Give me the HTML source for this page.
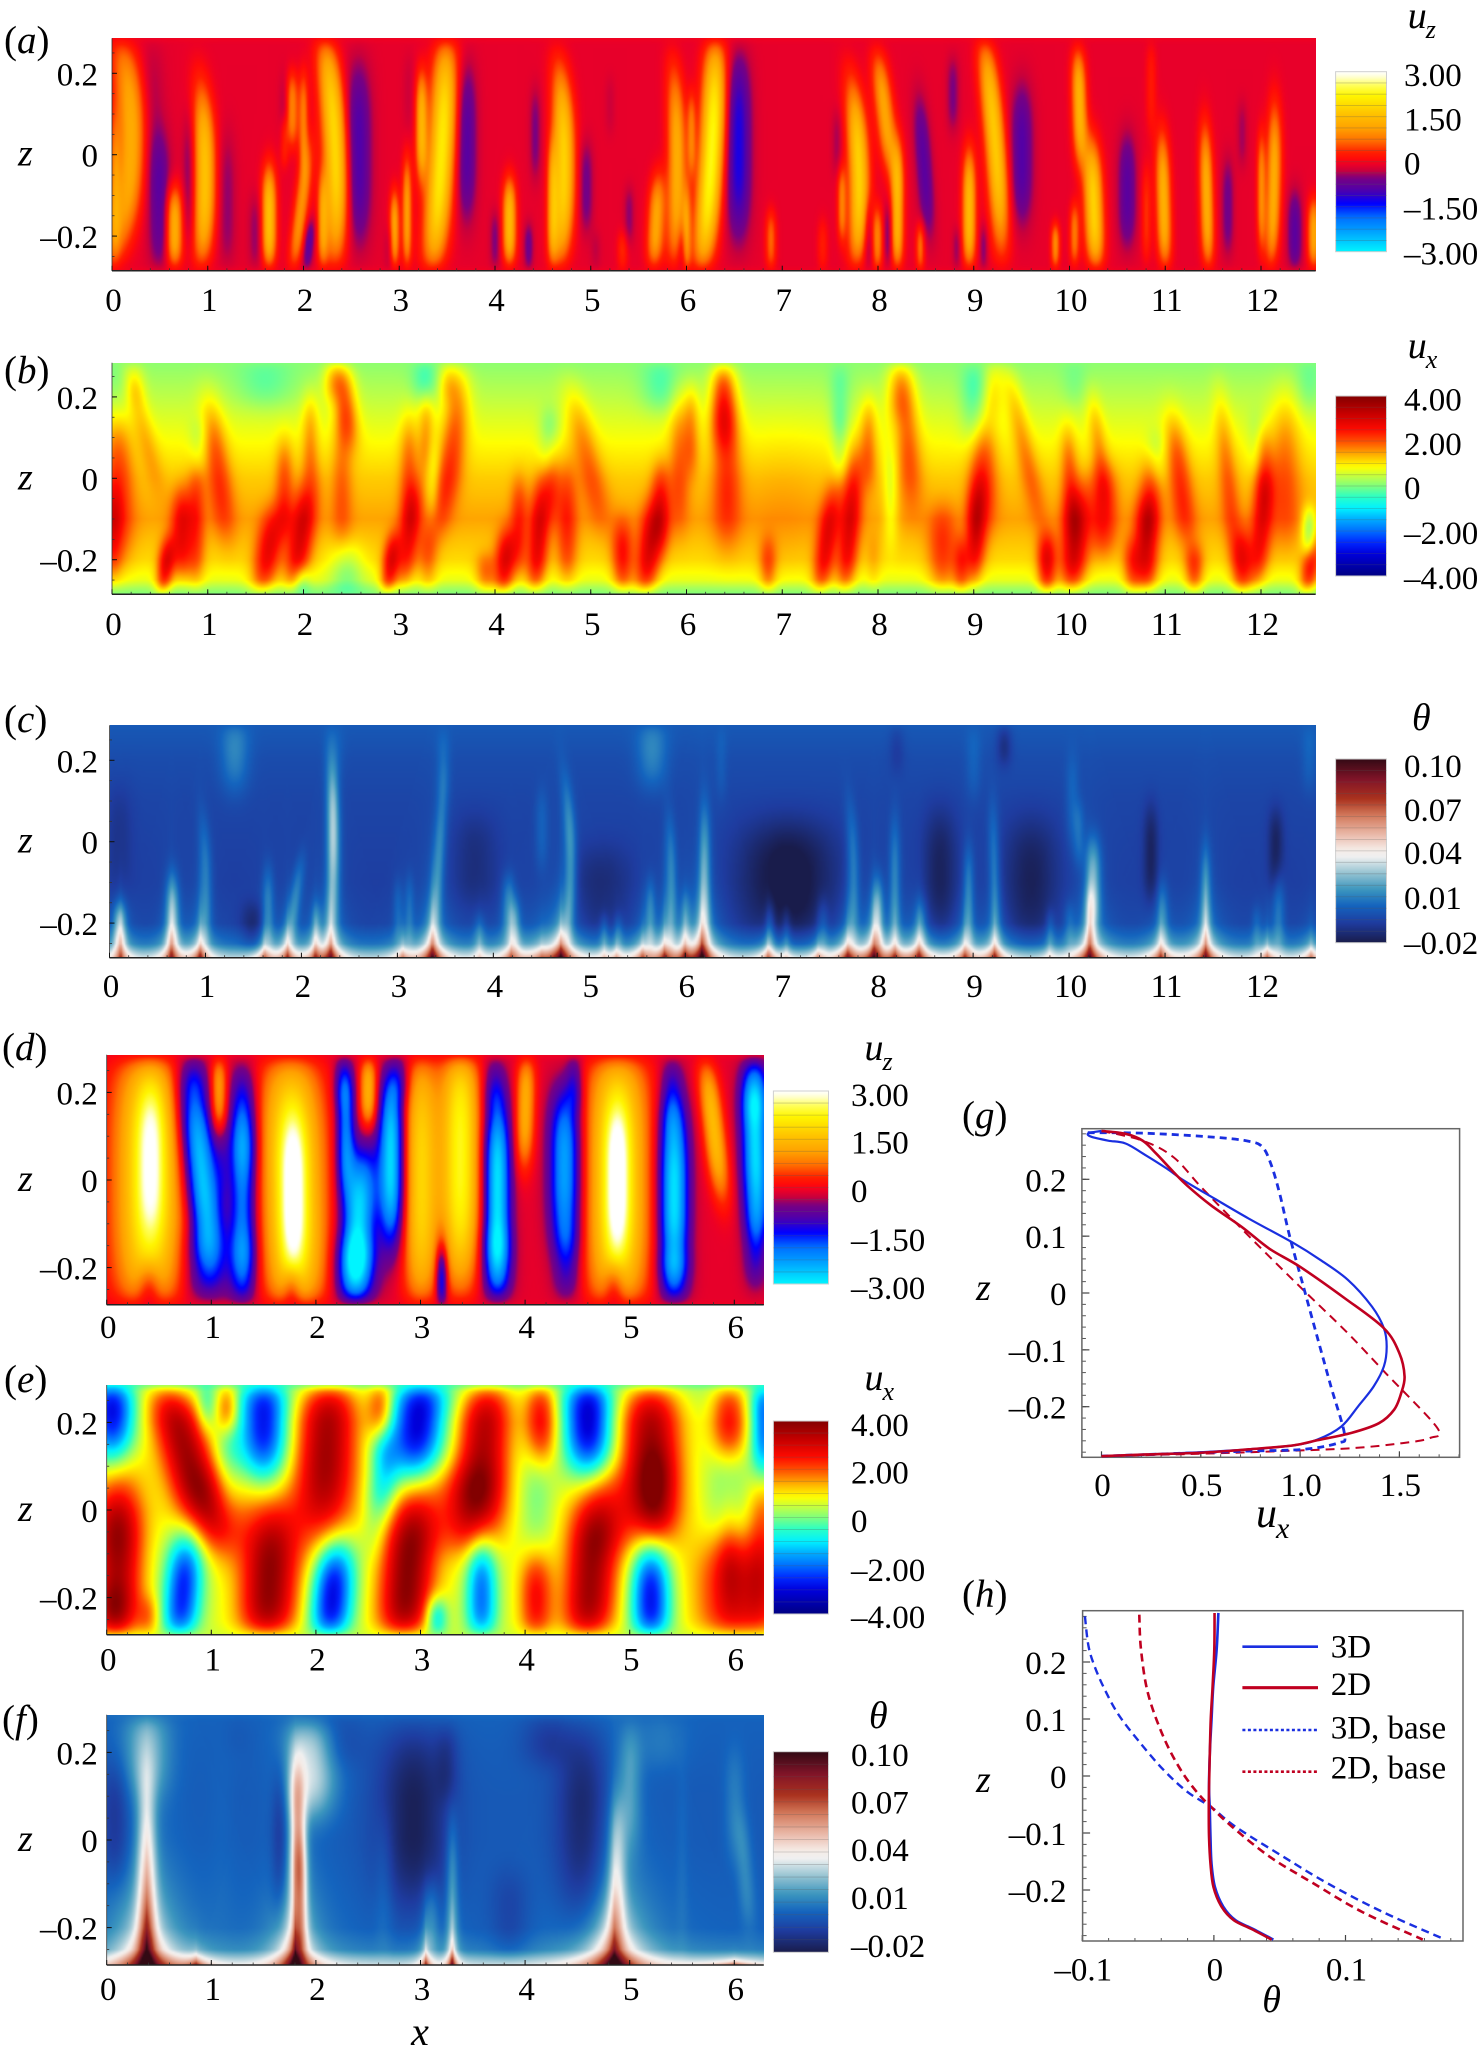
<!DOCTYPE html>
<html lang="en">
<head>
<meta charset="utf-8">
<title>Flow fields and mean profiles</title>
<style>
html,body{margin:0;padding:0;background:#fff;}
#figure{position:relative;width:1479px;height:2059px;overflow:hidden;background:#fff;font-family:"Liberation Serif",serif;}
canvas{position:absolute;display:block;}
svg{position:absolute;left:0;top:0;}
text{font-family:"Liberation Serif",serif;fill:#000;}
</style>
</head>
<body>
<div id="figure">
<canvas id="cv-a"></canvas>
<canvas id="cv-b"></canvas>
<canvas id="cv-c"></canvas>
<canvas id="cv-d"></canvas>
<canvas id="cv-e"></canvas>
<canvas id="cv-f"></canvas>
<svg id="ov" width="1479" height="2059" viewBox="0 0 1479 2059"></svg>
</div>
<script>
// ---------- tick labels ----------
const wideXTicks = [0,1,2,3,4,5,6,7,8,9,10,11,12];
const narrowXTicks = [0,1,2,3,4,5,6];
const fieldZTicks = [0.2,0,-0.2];
const uzBarLabels = ["3.00","1.50","0","–1.50","–3.00"];
const uxBarLabels = ["4.00","2.00","0","–2.00","–4.00"];
const thetaBarLabels = ["0.10","0.07","0.04","0.01","–0.02"];
const gXTicks = [0,0.5,1,1.5];
const gXLabels = ["0","0.5","1.0","1.5"];
const gZTicks = [0.2,0.1,0,-0.1,-0.2];
const hXTicks = [-0.1,0,0.1];
const hXLabels = ["–0.1","0","0.1"];

// ---------- colour scales: [value, [r,g,b]] ----------
const uzScale = [[-3,[0,245,255]],[-2.4,[0,170,255]],[-1.85,[0,110,255]],[-1.4,[0,0,255]],[-0.95,[80,0,170]],[-0.55,[120,0,130]],[-0.3,[200,0,60]],[-0.1,[235,0,40]],[0.1,[255,10,10]],[0.3,[255,30,0]],[0.7,[255,110,0]],[1.1,[255,160,0]],[1.6,[255,195,0]],[2.2,[255,245,0]],[2.55,[255,255,90]],[2.85,[255,255,220]],[3,[255,255,255]]];
const uxScale = [[-4,[0,0,130]],[-3,[0,0,220]],[-2.5,[0,40,255]],[-2,[0,110,255]],[-1.5,[0,170,255]],[-1,[0,240,255]],[-0.5,[40,255,200]],[-0.1,[110,255,140]],[0.4,[190,255,70]],[0.85,[255,255,0]],[1.3,[255,190,0]],[1.9,[255,90,0]],[2.5,[255,10,0]],[3.2,[200,0,0]],[4,[130,0,0]]];
const thetaScale = [[-0.02,[25,28,75]],[-0.0065,[30,60,160]],[0.005,[20,100,190]],[0.016,[60,150,190]],[0.027,[150,195,210]],[0.038,[240,240,240]],[0.043,[245,235,230]],[0.052,[235,190,175]],[0.066,[210,120,90]],[0.077,[170,50,30]],[0.09,[130,20,40]],[0.104,[50,10,20]]];

// ---------- mean wall-normal structure of each field ----------
const baseZLevels = [-0.286,-0.27,-0.25,-0.2,-0.1,0,0.1,0.2,0.27,0.286];
const baseA = [-0.05,-0.12,-0.12,-0.12,-0.12,-0.12,-0.12,-0.12,-0.12,-0.05];
const baseB = [0,0.25,0.7,1.1,1.45,1.2,0.8,0.4,0.15,0.1];
const baseC = [0.03,0.02,0.006,-0.005,-0.006,-0.005,-0.004,-0.002,0.001,0.002];
const baseD = [-0.05,-0.12,-0.12,-0.12,-0.12,-0.12,-0.12,-0.12,-0.12,-0.05];
const baseE = [0.5,0.55,0.6,0.6,0.6,0.7,0.6,0.5,0.2,-0.2];
const baseF = [0.034,0.024,0.01,0.004,0.003,0.002,0.002,0.003,0.004,0.006];

// ---------- plume features read off each field ----------
// each row: x, z, half-height in z, half-width in x, amplitude, tilt dx/dz, curvature
const plumesA = [
[0.2,0.02,0.27,0.13,1.4,0.1,-2.0],[0.03,-0.08,0.15,0.03,0.7],[0.5,-0.13,0.16,0.09,-0.9],[0.42,0.08,0.18,0.1,-0.4],[0.65,-0.185,0.085,0.06,1.5],
[0.8,-0.06,0.14,0.04,-0.6],[0.97,-0.055,0.2,0.085,1.7,0,-0.8],[1.2,-0.12,0.15,0.07,-0.5],[1.5,-0.2,0.08,0.05,-0.5],[1.64,-0.16,0.11,0.05,1.7],
[1.8,0.1,0.08,0.03,-0.4],[1.88,0.11,0.07,0.04,1.0],[2.0,0.08,0.1,0.025,0.9],[1.97,-0.14,0.14,0.05,1.1,0.53],[1.8,0.03,0.04,0.02,0.5],
[2.05,-0.23,0.05,0.03,-1.1,0.4],[2.2,-0.17,0.1,0.03,1.0],[2.33,0.02,0.26,0.1,2.0,-0.21,-0.77],[2.57,0,0.2,0.11,-1.2],[2.9,-0.25,0.05,0.03,-0.4],
[3.1,0.15,0.08,0.04,-0.2],[2.95,-0.19,0.08,0.025,1.3],[3.08,-0.15,0.12,0.025,1.2],[3.23,0.07,0.11,0.035,1.4],[3.44,0,0.27,0.11,2.2,0.25,-0.3],
[3.7,0.03,0.17,0.08,-1.1],[4.0,-0.22,0.06,0.03,-0.6],[4.15,-0.17,0.09,0.045,1.6],[4.35,-0.24,0.05,0.025,-0.8],[4.42,0.05,0.09,0.035,-0.6],
[4.6,-0.12,0.13,0.03,1.1],[4.72,-0.03,0.22,0.085,1.9,0,-0.8],[4.95,-0.08,0.09,0.05,-0.7],[5.05,-0.25,0.04,0.03,-0.3],[5.4,-0.15,0.05,0.03,-0.5],
[5.33,-0.25,0.04,0.03,0.5],[5.2,0.12,0.05,0.03,-0.2],[5.68,-0.17,0.1,0.06,1.3,0.2],[5.9,-0.03,0.22,0.07,1.4,0,-0.6],[6.05,0.05,0.08,0.02,0.8],
[6.0,-0.2,0.1,0.02,0.9],[5.95,-0.24,0.04,0.02,-0.4],[6.26,0,0.27,0.1,2.4,0.25,-0.4],[6.54,0.02,0.2,0.1,-1.6],
[6.88,-0.22,0.06,0.03,0.8],[7.42,-0.24,0.06,0.03,0.4],[7.57,0.03,0.06,0.03,-0.4],[7.62,-0.12,0.07,0.02,0.9],[7.8,-0.05,0.2,0.08,1.9,-0.1,-1.0],
[7.9,-0.2,0.07,0.03,-0.8],[8.07,0.1,0.13,0.07,1.3,-0.5],[8.2,-0.14,0.14,0.04,1.5],[7.99,-0.22,0.07,0.035,1.0],[8.1,-0.2,0.06,0.02,-0.7],
[8.44,-0.24,0.05,0.02,0.9],[8.48,-0.03,0.15,0.06,-1.0,-0.3],[8.78,0.15,0.07,0.04,-0.6],[8.95,-0.14,0.13,0.045,1.6],[9.22,0.03,0.24,0.08,1.8,-0.35,-0.4],
[9.5,0,0.15,0.09,-1.1],[9.1,-0.24,0.05,0.02,-0.6],[8.82,-0.24,0.04,0.02,-0.5],[10.1,0.12,0.12,0.05,1.5,-0.1],[10.25,-0.13,0.14,0.07,1.9,-0.15],
[9.85,-0.23,0.04,0.02,1.1],[10.05,-0.2,0.06,0.025,0.9],[10.6,-0.09,0.12,0.07,-1.0],[10.98,-0.12,0.15,0.05,1.45,-0.1],[10.8,-0.15,0.1,0.025,0.5],
[10.85,0.17,0.1,0.03,0.35],[11.43,-0.11,0.16,0.045,1.4,-0.1],[11.65,-0.13,0.1,0.04,-0.7],[11.8,0.05,0.06,0.03,-0.4],[12,-0.09,0.12,0.02,1.0],
[12.13,-0.08,0.18,0.05,1.4,0.1,-0.3],[12.35,-0.2,0.09,0.05,-1.0],[12.55,-0.2,0.07,0.04,1.3]
];
const plumesB = [
[0.3,0.15,0.13,0.05,0.7,-1.0],[0.06,-0.02,0.15,0.1,1.3],[0,-0.14,0.08,0.04,1.0],[0.73,-0.14,0.07,0.05,1.7],[0.55,-0.24,0.05,0.03,2.3,0.5],
[0.88,-0.12,0.13,0.035,1.1],[1.1,0.03,0.13,0.07,1.3,-0.5],[0.9,0.08,0.03,0.04,-0.5],[1.62,-0.2,0.08,0.08,2.0,0.7],[1.8,-0.02,0.08,0.035,1.0],
[1.97,-0.15,0.1,0.07,2.1,0.6],[2.07,0.1,0.07,0.03,0.9],[2.43,0.2,0.08,0.06,1.7,-0.4],[2.4,0,0.12,0.05,0.8],[2.9,-0.23,0.05,0.03,2.2,0.5],
[3.1,-0.15,0.09,0.05,1.6,0.5],[3.3,-0.22,0.05,0.04,0.8],[3.1,0.02,0.1,0.04,1.0],[3.28,0.11,0.06,0.025,0.9],[3.56,0.08,0.18,0.08,1.5,0.55,-1.5],
[3.35,-0.01,0.06,0.02,-0.6],[4.1,-0.23,0.06,0.05,2.3,0.3],[3.9,-0.26,0.03,0.05,1.3],[4.25,-0.12,0.08,0.03,1.1],[4.45,-0.16,0.12,0.05,2.0,0.3],
[4.6,0,0.06,0.03,0.8],[4.95,0.06,0.13,0.08,1.0,-0.9],[4.75,-0.12,0.12,0.05,1.2],[4.57,0.09,0.04,0.05,-0.7],[5.6,-0.2,0.1,0.07,2.2,0.5],
[5.33,-0.21,0.06,0.05,1.7],[5.73,-0.07,0.07,0.04,1.2],[5.92,0.05,0.13,0.05,1.0],[6.05,0.12,0.07,0.03,1.0],[6.38,0.2,0.08,0.07,1.9],
[6.42,0.03,0.15,0.09,1.3],[7,-0.1,0.2,0.35,0.2],[3.27,0.26,0.03,0.08,-0.7],[1.6,0.25,0.04,0.25,-0.5],[5.73,0.24,0.04,0.15,-0.6],
[0.06,0.22,0.05,0.1,-0.3],[1.98,-0.28,0.02,0.03,-1.0],[2.45,-0.25,0.05,0.12,-0.8],[7.45,-0.18,0.11,0.05,1.9,0.55],[7.7,-0.13,0.15,0.05,1.9,0.35],
[6.85,-0.24,0.05,0.03,1.2],[7.9,0.09,0.07,0.03,1.0],[8.3,0.13,0.15,0.07,1.3,-0.25],[8.13,-0.05,0.08,0.02,-0.6],[7.95,-0.22,0.04,0.02,0.4],
[9.1,0.02,0.1,0.08,1.3],[9.05,-0.1,0.08,0.04,1.0],[8.67,-0.2,0.08,0.09,1.3],[8.87,-0.24,0.05,0.03,1.5],[9,-0.16,0.08,0.03,1.2],
[9.5,0.1,0.17,0.05,0.9,-0.9],[9,0.19,0.07,0.08,-0.7],[9.76,-0.23,0.05,0.04,2.2],[10.05,-0.17,0.1,0.08,2.4,0.3],[10,0,0.09,0.03,1.0,-0.2],
[10.35,-0.08,0.07,0.08,1.4],[10.3,0.08,0.09,0.03,0.8,-0.5],[10.8,-0.18,0.09,0.06,2.2],[10.65,-0.24,0.05,0.04,1.4],[10.85,-0.04,0.06,0.05,1.0],
[11.15,0,0.12,0.06,1.3,-0.5],[11.3,-0.25,0.04,0.04,1.6],[11.65,0,0.18,0.04,0.9,-0.4],[11.8,-0.23,0.06,0.05,1.8],[12,-0.13,0.11,0.05,1.7,0.4],
[12.02,0.03,0.06,0.03,0.9],[12.25,0.03,0.15,0.1,1.0],[12.5,-0.24,0.05,0.04,2.1,0.6],[12.5,-0.135,0.025,0.02,-1.2],[10.9,0.05,0.03,0.05,-0.5],
[11.95,0.09,0.04,0.04,-0.4],[10.05,0.25,0.04,0.08,-0.3],[12.5,0.25,0.05,0.08,-0.4],[7.6,0.2,0.05,0.05,-0.5],[7.6,0.08,0.05,0.03,-0.5],
[8.2,0.23,0.05,0.07,0.8],[9.2,0.24,0.05,0.05,0.8],[0.25,0.25,0.03,0.04,0.5],[2.3,0.26,0.03,0.05,1.0],[3.5,0.26,0.03,0.05,0.8]
];
const plumesC = [
[0.1,-0.22,0.05,0.04,0.03],[0.65,-0.19,0.09,0.04,0.03],[1,-0.12,0.16,0.035,0.018,0,-1.0],[1.65,-0.17,0.09,0.03,0.018],[1.92,-0.16,0.1,0.035,0.02,0.6],
[2.15,-0.22,0.05,0.02,0.015],[2.33,-0.02,0.21,0.04,0.03,0,-0.5],[2.32,0.05,0.1,0.03,0.012],[1.3,0.24,0.1,0.12,0.018],[2.35,0.24,0.06,0.06,0.006],
[3,-0.17,0.06,0.02,0.01],[3.12,-0.17,0.07,0.02,0.012],[3.42,-0.07,0.2,0.035,0.022,0.25],[3.47,0.2,0.08,0.04,0.008],[3.85,-0.24,0.04,0.03,0.012],
[4.15,-0.16,0.06,0.04,0.018],[4.22,-0.22,0.06,0.03,0.02],[4.8,-0.06,0.19,0.035,0.026,0,-1.2],[4.5,0.03,0.08,0.04,0.01],[5.15,-0.23,0.03,0.02,0.012],
[5.3,-0.23,0.03,0.02,0.012],[5.63,-0.19,0.08,0.025,0.018],[5.85,-0.12,0.16,0.03,0.02,0,-0.6],[6,-0.2,0.06,0.02,0.012],[6.2,-0.1,0.17,0.03,0.026],
[5.65,0.24,0.09,0.13,0.018],[6.37,0.2,0.08,0.03,0.006],[0.1,0,0.12,0.1,-0.006],[1.5,-0.22,0.05,0.1,-0.012],[5.1,-0.13,0.1,0.3,-0.008],
[3.8,-0.05,0.1,0.2,-0.007],[7.06,-0.1,0.13,0.45,-0.018],[9.6,-0.1,0.14,0.25,-0.012],[8.65,-0.08,0.14,0.15,-0.012],[10.85,-0.03,0.1,0.05,-0.012],
[12.15,-0.02,0.08,0.05,-0.012],[9.32,0.26,0.05,0.05,-0.012],[8.2,0.25,0.06,0.05,-0.006],[7.75,-0.1,0.17,0.035,0.02,0,-1.0],[8,-0.2,0.09,0.03,0.03],
[8.18,-0.12,0.16,0.03,0.02],[8.45,-0.22,0.06,0.03,0.015],[6.88,-0.23,0.06,0.02,0.014],[7.05,-0.23,0.05,0.02,0.01],[7.43,-0.22,0.06,0.03,0.013],
[8.95,-0.15,0.12,0.025,0.02],[9.22,-0.1,0.17,0.03,0.018,-0.1],[9,0.2,0.08,0.05,0.008],[9.8,-0.23,0.04,0.02,0.012],[10.03,0.1,0.1,0.04,0.01],
[10.25,-0.1,0.09,0.05,0.03],[10.22,-0.2,0.07,0.025,0.02],[10.1,0.02,0.06,0.03,0.012],[10,-0.21,0.04,0.025,0.01],[10.97,-0.2,0.08,0.03,0.016],
[11.42,-0.15,0.12,0.025,0.02],[11.95,-0.22,0.04,0.02,0.01],[12.18,-0.18,0.09,0.035,0.016],[12.5,0.22,0.08,0.05,0.008]
];
// roots: x, peak, half-width in x, height in z
const rootsC = [
[0.11,0.06,0.15,0.12],[0.64,0.07,0.15,0.12],[0.94,0.07,0.15,0.12],[1.61,0.05,0.15,0.1],[1.85,0.06,0.15,0.1],[2.14,0.05,0.12,0.1],[2.3,0.08,0.17,0.14],
[3.05,0.04,0.15,0.08],[3.36,0.09,0.2,0.14],[3.85,0.02,0.12,0.08],[4.18,0.05,0.2,0.1],[4.5,0.03,0.25,0.08],[4.7,0.09,0.22,0.14],[5.15,0.02,0.12,0.06],
[5.28,0.03,0.12,0.06],[5.55,0.05,0.17,0.1],[5.78,0.06,0.17,0.12],[5.99,0.05,0.12,0.1],[6.17,0.1,0.2,0.16],[6.86,0.05,0.15,0.08],[7.05,0.02,0.12,0.06],
[7.38,0.04,0.12,0.06],[7.69,0.07,0.2,0.1],[7.96,0.08,0.17,0.12],[8.18,0.05,0.15,0.08],[8.43,0.07,0.2,0.1],[8.91,0.06,0.17,0.1],[9.22,0.07,0.17,0.1],
[9.79,0.02,0.12,0.06],[10.21,0.09,0.22,0.14],[10.95,0.06,0.2,0.1],[11.42,0.08,0.2,0.14],[12.06,0.05,0.17,0.08],[12.52,0.05,0.15,0.08]
];
const plumesD = [
[0.4,0,0.3,0.3,2.3],[0.42,0.05,0.15,0.1,1.0],[0.4,-0.27,0.05,0.08,-1.0],[0.9,0.02,0.2,0.13,-2.7,-0.48],[0.9,-0.2,0.06,0.15,-0.8],[0.85,0.26,0.04,0.1,-0.5],
[1.07,0.2,0.07,0.05,1.3],[1.3,-0.03,0.17,0.1,-1.9],[1.3,0.15,0.1,0.1,-1.0],[1.3,-0.22,0.07,0.1,-1.0],[1.1,0.05,0.06,0.05,-0.4],
[1.78,-0.02,0.3,0.27,2.4,-0.1],[1.78,-0.03,0.15,0.09,1.2],[1.77,-0.27,0.04,0.06,-1.0],[2.4,-0.1,0.14,0.13,-2.7,0.3],[2.28,0.12,0.12,0.06,-1.9],[2.4,-0.22,0.06,0.15,-1.2],
[2.72,0.05,0.17,0.09,-2.7],[2.5,0.21,0.06,0.055,1.5],[2.8,0.25,0.04,0.07,-0.6],[2.25,0.24,0.04,0.06,-0.5],[3.38,0.05,0.27,0.16,2.4],
[3,0,0.28,0.14,1.9],[3.2,-0.24,0.05,0.02,-1.4],[3.2,-0.2,0.07,0.04,-0.6],[3.73,-0.02,0.18,0.095,-2.8],[3.73,-0.2,0.06,0.11,-1.0],
[3.7,0.23,0.04,0.08,-0.6],[4,0.17,0.11,0.06,1.4,0.1],[4.38,0.03,0.15,0.12,-2.3],[4.47,0.24,0.05,0.05,-0.8],[4.4,-0.19,0.07,0.1,-0.9],
[4.88,0,0.3,0.26,2.4],[4.88,0,0.14,0.08,1.2],[4.85,-0.26,0.04,0.07,-1.0],[5.42,-0.03,0.17,0.11,-2.8],[5.42,-0.23,0.04,0.11,-1.0],[5.4,0.2,0.07,0.08,-0.8],
[5.8,0.12,0.13,0.07,1.6,-0.5],[6.2,0.07,0.15,0.1,-2.7,-0.1],[6.2,0.22,0.05,0.1,-0.9],[6.2,-0.15,0.07,0.08,-0.9]
];
const plumesE = [
[0.05,0.26,0.11,0.15,-3.5],[0.76,0.13,0.15,0.2,3.6,-1.2],[0.1,-0.16,0.14,0.18,3.3],[0.05,-0.26,0.04,0.1,1],[0.1,0.03,0.08,0.2,1.2],
[0.72,-0.2,0.1,0.12,-3.2,0.35],[0.4,-0.27,0.02,0.05,1.2],[1.55,-0.17,0.13,0.22,3.8,0.2],[1.1,0,0.05,0.25,0.9],[1.5,0.22,0.1,0.17,-3.3],
[1.15,0.26,0.03,0.05,2],[0.95,0.26,0.03,0.04,-1],[2.1,0.16,0.18,0.24,3.6,0.2],[2.15,-0.21,0.09,0.14,-3.6,0.3],[2.62,0.25,0.04,0.07,2.5],
[2.98,0.22,0.1,0.2,-3.6,0.4],[2.65,0.1,0.08,0.08,-1.4],[2.87,-0.16,0.14,0.2,3.9,0.3],[3.6,0.15,0.17,0.2,3.4,0.3],[3.5,0,0.05,0.2,0.9],
[3.58,-0.2,0.1,0.09,-2.6],[3.15,-0.27,0.02,0.05,-2.2],[4.15,0.22,0.07,0.1,2.6],[4.6,0.23,0.1,0.17,-3.7],[4.1,-0.22,0.07,0.1,2.3],
[4.62,-0.17,0.14,0.19,3.6,0.25],[5.2,0.13,0.17,0.23,3.6],[5.25,0.03,0.06,0.12,1],[5.2,-0.21,0.1,0.13,-3.5],[6,-0.2,0.09,0.3,2.7],
[6.27,-0.1,0.14,0.1,1.5],[5.95,0.22,0.06,0.12,2.4],[6.28,0.2,0.08,0.07,-2.5],[5.95,-0.07,0.1,0.06,0.7],[3.2,0,0.05,0.35,0.7],[4.75,0,0.05,0.2,1],
[1.15,0.1,0.06,0.1,-0.8],[2.55,-0.02,0.04,0.06,-0.5],[4.1,0.05,0.08,0.12,-0.7],[5.95,0.05,0.06,0.15,-0.8]
];
const plumesF = [
[0.38,-0.1,0.22,0.05,0.03],[0.38,0.22,0.1,0.18,0.02],[1.82,0.03,0.13,0.035,0.032],[1.95,0.17,0.09,0.2,0.03],[1.85,-0.13,0.14,0.025,0.03],
[4.88,-0.08,0.15,0.04,0.02],[5,0.12,0.12,0.07,0.014],[3.3,-0.12,0.14,0.02,0.015],[3.1,-0.18,0.06,0.04,0.012],[6,0.08,0.1,0.06,0.008],
[6.1,-0.07,0.1,0.04,0.01,-0.3],[5.3,0.24,0.05,0.2,0.006],[2.93,0.05,0.19,0.3,-0.02],[3.25,0.18,0.06,0.07,-0.008],[4.55,0.03,0.2,0.22,-0.018],
[0.08,0.04,0.11,0.1,-0.012],[1.65,0,0.14,0.04,-0.012],[3.85,-0.18,0.08,0.15,-0.008],[1.25,0.26,0.03,0.1,-0.002],[2.2,0.25,0.05,0.2,-0.008],[4.2,0.25,0.05,0.2,-0.01],
[5.5,-0.05,0.2,0.02,0.003],[2.65,-0.1,0.12,0.05,0.006],[1.1,0,0.2,0.1,0.002]
];
const rootsF = [
[0.38,0.11,0.3,0.2],[0.85,0.05,0.14,0.03],[1.8,0.11,0.2,0.2],[3.05,0.06,0.07,0.07],[3.3,0.08,0.06,0.08],[4.85,0.11,0.3,0.2],[6,0.05,0.35,0.015]
];

// ---------- profile series, panel g ----------
const g3DU = [0,-0.066,-0.052,0.034,0.121,0.224,0.328,0.414,0.569,0.741,0.966,1.103,1.241,1.362,1.422,1.436,1.422,1.371,1.293,1.207,1.086,0.966,0.741,0.5,0.224,0];
const g3DZ = [0.285,0.281,0.275,0.268,0.263,0.242,0.219,0.198,0.166,0.131,0.088,0.058,0.023,-0.024,-0.062,-0.094,-0.129,-0.164,-0.199,-0.235,-0.258,-0.268,-0.275,-0.28,-0.284,-0.287];
const g2DU = [0,0.121,0.207,0.276,0.362,0.431,0.552,0.707,0.845,1.0,1.224,1.422,1.5,1.526,1.509,1.474,1.397,1.259,1.086,0.966,0.741,0.5,0.224,0];
const g2DZ = [0.285,0.28,0.268,0.245,0.213,0.189,0.154,0.116,0.078,0.046,-0.009,-0.062,-0.106,-0.147,-0.176,-0.205,-0.229,-0.246,-0.259,-0.268,-0.275,-0.281,-0.284,-0.287];
const g3DBaseU = [-0.069,0.224,0.569,0.741,0.81,0.853,0.897,0.948,1.017,1.086,1.155,1.224,1.19,1.017,0.741,0.397,0];
const g3DBaseZ = [0.282,0.281,0.274,0.267,0.257,0.227,0.175,0.099,0.011,-0.077,-0.164,-0.249,-0.264,-0.275,-0.278,-0.282,-0.287];
const g2DBaseU = [0,0.207,0.362,0.5,0.672,0.828,1.017,1.241,1.431,1.69,1.655,1.517,1.259,0.914,0.569,0];
const g2DBaseZ = [0.285,0.268,0.239,0.187,0.125,0.07,0.005,-0.071,-0.141,-0.237,-0.255,-0.264,-0.273,-0.278,-0.282,-0.287];

// ---------- profile series, panel h ----------
const h3DTheta = [0.0034,0.0021,-0.0005,-0.0018,-0.0031,-0.0037,-0.0031,-0.0026,-0.0018,0.0008,0.0073,0.0164,0.0295,0.0452];
const h2DTheta = [0.0005,0.0003,-0.001,-0.0024,-0.0031,-0.0037,-0.0039,-0.0037,-0.0026,-0.0003,0.006,0.0151,0.0282,0.0439];
const hSolidZ = [0.286,0.222,0.157,0.099,0.04,-0.019,-0.06,-0.107,-0.154,-0.195,-0.23,-0.253,-0.268,-0.287];
const h3DBaseTheta = [-0.098,-0.0953,-0.0906,-0.0828,-0.0723,-0.0567,-0.0384,-0.0201,-0.0018,0.0164,0.053,0.0869,0.1287,0.1757];
const h3DBaseZ = [0.28,0.228,0.192,0.151,0.107,0.06,0.011,-0.028,-0.055,-0.089,-0.142,-0.189,-0.239,-0.287];
const h2DBaseTheta = [-0.0567,-0.0554,-0.0501,-0.0384,-0.0253,-0.0123,-0.0018,0.0138,0.0426,0.0739,0.1131,0.1587];
const h2DBaseZ = [0.283,0.222,0.145,0.069,0.011,-0.03,-0.055,-0.089,-0.142,-0.186,-0.239,-0.287];

// ---------- drawing ----------
const SVGNS = "http://www.w3.org/2000/svg";
const ov = document.getElementById("ov");
function mk(tag, attrs, parent){
  const el = document.createElementNS(SVGNS, tag);
  for (const k in attrs) el.setAttribute(k, attrs[k]);
  (parent || ov).appendChild(el);
  return el;
}
function group(name){
  const g = mk("g", {});
  
  
  return g;
}
function label(str, x, y, anchor, name, parent, size){
  const el = mk("text", {x:x, y:y, "text-anchor":anchor, "font-size":size||33}, parent);
  el.textContent = str;
  
  
  return el;
}
function italicLabel(str, x, y, anchor, name, parent, size){
  const el = label(str, x, y, anchor, name, parent, size);
  el.setAttribute("font-style", "italic");
  return el;
}
function panelLetter(letter, x, y){
  const el = mk("text", {x:x, y:y, "font-size":39});
  
  
  const a = mk("tspan", {}, el); a.textContent = "(";
  const b = mk("tspan", {"font-style":"italic"}, el); b.textContent = letter;
  const c = mk("tspan", {}, el); c.textContent = ")";
}
function symbolTitle(main, sub, x, y, name){
  const g = group(name);
  italicLabel(main, x, y, "start", name + "-symbol", g, 38);
  if (sub) italicLabel(sub, x + 18, y + 10, "start", name + "-subscript", g, 26);
}
function lerp(a, b, t){ return a + (b - a) * t; }
function colorAt(scale, v){
  if (v <= scale[0][0]) return scale[0][1];
  for (let i = 1; i < scale.length; i++){
    if (v <= scale[i][0]){
      const t = (v - scale[i-1][0]) / (scale[i][0] - scale[i-1][0]);
      const p = scale[i-1][1], q = scale[i][1];
      return [lerp(p[0],q[0],t), lerp(p[1],q[1],t), lerp(p[2],q[2],t)];
    }
  }
  return scale[scale.length-1][1];
}
function baseAt(values, z){
  const L = baseZLevels;
  if (z <= L[0]) return values[0];
  for (let i = 1; i < L.length; i++){
    if (z <= L[i]) return lerp(values[i-1], values[i], (z - L[i-1]) / (L[i] - L[i-1]));
  }
  return values[values.length-1];
}
function fieldAt(x, z, base, plumes, roots, tune){
  let v = baseAt(base, z);
  const env = 1 - Math.pow(Math.abs(z) / 0.29, 12);
  for (let i = 0; i < plumes.length; i++){
    const r = plumes[i];
    const dz = z - r[1];
    const qz = Math.abs(dz / (r[2] + tune.dh));
    if (qz > 2) continue;
    const dx = x - r[0] - (r[5] || 0) * dz - (r[6] || 0) * dz * dz;
    const qx = dx / (r[3] + tune.dw);
    if (qx > 3.2 || qx < -3.2) continue;
    const amp = r[4] * (r[4] < 0 ? tune.neg : tune.pos);
    v += env * amp * Math.exp(-(qx * qx) - qz * qz * qz);
  }
  if (roots){
    const d = Math.max(0, z + 0.286);
    for (let i = 0; i < roots.length; i++){
      const r = roots[i];
      const s = Math.pow(Math.abs(x - r[0]) / (r[2] * tune.ra), 0.9) + Math.pow(d / (r[3] * tune.rb), 0.9);
      if (s < 6) v += r[1] * tune.rp * Math.exp(-s);
    }
  }
  return v;
}
function drawField(id, p, base, plumes, roots, scale, tune){
  const cv = document.getElementById(id);
  const wpx = p.right - p.left, hpx = p.bottom - p.top;
  const cw = Math.round(wpx / 1.5), ch = Math.round(hpx / 1.5);
  cv.width = cw; cv.height = ch;
  cv.style.left = p.left + "px"; cv.style.top = p.top + "px";
  cv.style.width = wpx + "px"; cv.style.height = hpx + "px";
  const ctx = cv.getContext("2d");
  const img = ctx.createImageData(cw, ch);
  let k = 0;
  for (let j = 0; j < ch; j++){
    const z = (p.zero - (p.top + (j + 0.5) * hpx / ch)) / p.zUnit;
    for (let i = 0; i < cw; i++){
      const x = ((i + 0.5) * wpx / cw) / p.xUnit;
      const c = colorAt(scale, fieldAt(x, z, base, plumes, roots, tune));
      img.data[k++] = c[0]; img.data[k++] = c[1]; img.data[k++] = c[2]; img.data[k++] = 255;
    }
  }
  ctx.putImageData(img, 0, 0);
}
function fieldAxes(p, ticks, name){
  const g = group(name + "-axes");
  const xs = x => p.left + x * p.xUnit;
  const zs = z => p.zero - z * p.zUnit;
  mk("line", {x1:p.left, x2:p.right, y1:p.bottom, y2:p.bottom, stroke:"#222", "stroke-width":1.5}, g);
  mk("line", {x1:p.left, x2:p.left, y1:p.top, y2:p.bottom, stroke:"#333", "stroke-width":0.8}, g);
  const maxX = (p.right - p.left) / p.xUnit;
  for (let m = 0.2; m < maxX; m += 0.2){
    mk("line", {x1:xs(m), x2:xs(m), y1:p.bottom, y2:p.bottom - 2.5, stroke:"#333", "stroke-width":0.8}, g);
  }
  ticks.forEach(t => {
    mk("line", {x1:xs(t), x2:xs(t), y1:p.bottom, y2:p.bottom - 5, stroke:"#111", "stroke-width":1}, g);
    label(String(t), xs(t) + 1.5, p.xLabelY, "middle", name + "-x-tick-" + t, g);
  });
  for (let m = -0.25; m < 0.28; m += 0.05){
    mk("line", {x1:p.left, x2:p.left + 2.5, y1:zs(m), y2:zs(m), stroke:"#333", "stroke-width":0.8}, g);
  }
  fieldZTicks.forEach(t => {
    mk("line", {x1:p.left, x2:p.left + 5, y1:zs(t), y2:zs(t), stroke:"#111", "stroke-width":1}, g);
    const s = t < 0 ? "–" + Math.abs(t) : String(t);
    label(s, p.zLabelRight, zs(t) + 12, "end", name + "-z-tick-" + t, g);
  });
  italicLabel("z", p.zTitleX, p.zero + 11, "start", name + "-z-title", g, 38);
}
let gradId = 0;
function colorBar(b, scale, labels, name, vmin, vmax){
  const g = group(name);
  const defs = mk("defs", {}, g);
  const id = "bar" + (gradId++);
  const lg = mk("linearGradient", {id:id, x1:0, y1:0, x2:0, y2:1}, defs);
  for (let i = 0; i <= 60; i++){
    const c = colorAt(scale, lerp(vmax, vmin, i / 60));
    mk("stop", {offset:(i / 60), "stop-color":"rgb(" + c.map(Math.round).join(",") + ")"}, lg);
  }
  mk("rect", {x:b.left, y:b.top, width:b.right - b.left, height:b.bottom - b.top, fill:"url(#" + id + ")", stroke:"#cfcfcf", "stroke-width":1}, g);
  for (let i = 1; i < 16; i++){
    const y = b.top + i * (b.bottom - b.top) / 16;
    mk("line", {x1:b.left, x2:b.right, y1:y, y2:y, stroke:"#555", "stroke-opacity":0.3, "stroke-width":0.8}, g);
  }
  labels.forEach((s, i) => {
    label(s, b.labelX, b.labelY[i] + 11, "start", name + "-label-" + i, g);
  });
}
function smoothPath(pts){
  let d = "M" + pts[0][0] + " " + pts[0][1];
  for (let i = 0; i < pts.length - 1; i++){
    const p0 = pts[i-1] || pts[i], p1 = pts[i], p2 = pts[i+1], p3 = pts[i+2] || p2;
    d += " C" + (p1[0] + (p2[0]-p0[0])/6) + " " + (p1[1] + (p2[1]-p0[1])/6) + " " +
         (p2[0] - (p3[0]-p1[0])/6) + " " + (p2[1] - (p3[1]-p1[1])/6) + " " + p2[0] + " " + p2[1];
  }
  return d;
}
function profileLine(parent, xs, zs, us, ws, color, width, dash, name){
  const pts = us.map((u, i) => [xs(u), zs(ws[i])]);
  const el = mk("path", {d:smoothPath(pts), fill:"none", stroke:color, "stroke-width":width, "stroke-linejoin":"round"}, parent);
  if (dash) el.setAttribute("stroke-dasharray", dash);
  
  
}
function boxAxes(p, g, xMajor, xLabels, xMinorStep, xMin, xMax, zMajor, name){
  const xs = p.xs, zs = p.zs;
  for (let m = xMin; m <= xMax + 1e-6; m += xMinorStep){
    mk("line", {x1:xs(m), x2:xs(m), y1:p.bottom, y2:p.bottom - 3, stroke:"#555", "stroke-width":1}, g);
  }
  xMajor.forEach((t, i) => {
    mk("line", {x1:xs(t), x2:xs(t), y1:p.bottom, y2:p.bottom - 6, stroke:"#444", "stroke-width":1.2}, g);
    label(xLabels[i], xs(t) + 1, p.xLabelY, "middle", name + "-x-tick-" + xLabels[i], g);
  });
  for (let m = -0.28; m < 0.285; m += 0.02){
    mk("line", {x1:p.left, x2:p.left + 4, y1:zs(m), y2:zs(m), stroke:"#555", "stroke-width":1}, g);
  }
  zMajor.forEach(t => {
    mk("line", {x1:p.left, x2:p.left + 7.5, y1:zs(t), y2:zs(t), stroke:"#444", "stroke-width":1.2}, g);
    const s = t < 0 ? "–" + Math.abs(t) : String(t);
    label(s, p.zLabelRight, zs(t) + 12, "end", name + "-z-tick-" + t, g);
  });
  mk("rect", {x:p.left, y:p.top, width:p.right - p.left, height:p.bottom - p.top, fill:"none", stroke:"#666", "stroke-width":1.5}, g);
}

// ---------- layout ----------
const layoutA = {left:112,right:1315.7,top:38.3,bottom:270.7,zero:154.7,zUnit:407,xUnit:95.75,xLabelY:311,zLabelRight:98,zTitleX:18};
const layoutB = {left:112,right:1315.7,top:362.7,bottom:594.3,zero:478.3,zUnit:407,xUnit:95.75,xLabelY:635,zLabelRight:98,zTitleX:18};
const layoutC = {left:109.5,right:1315.7,top:725.3,bottom:957.7,zero:841.7,zUnit:407,xUnit:95.96,xLabelY:997,zLabelRight:98,zTitleX:18};
const layoutD = {left:106.7,right:763.8,top:1054.7,bottom:1304.7,zero:1180,zUnit:438,xUnit:104.6,xLabelY:1338,zLabelRight:97.7,zTitleX:18};
const layoutE = {left:106.7,right:763.8,top:1385,bottom:1634.7,zero:1510,zUnit:438,xUnit:104.6,xLabelY:1670.7,zLabelRight:97.7,zTitleX:18};
const layoutF = {left:106.7,right:763.8,top:1714.7,bottom:1965,zero:1840,zUnit:438,xUnit:104.6,xLabelY:2000,zLabelRight:97.7,zTitleX:18};

drawField("cv-a", layoutA, baseA, plumesA, null, uzScale, {dw:0.025, dh:0.02, neg:0.72, pos:1});
drawField("cv-b", layoutB, baseB, plumesB, null, uxScale, {dw:0.06, dh:0.04, neg:1, pos:0.8});
drawField("cv-c", layoutC, baseC, plumesC, rootsC, thetaScale, {dw:0.03, dh:0.02, neg:1, pos:0.8, ra:0.55, rb:0.6, rp:0.9});
drawField("cv-d", layoutD, baseD, plumesD, null, uzScale, {dw:0.03, dh:0.03, neg:1, pos:1});
drawField("cv-e", layoutE, baseE, plumesE, null, uxScale, {dw:0.06, dh:0.05, neg:1, pos:0.85});
drawField("cv-f", layoutF, baseF, plumesF, rootsF, thetaScale, {dw:0.04, dh:0.03, neg:1, pos:1, ra:0.65, rb:0.65, rp:0.95});

fieldAxes(layoutA, wideXTicks, "panel-a");
fieldAxes(layoutB, wideXTicks, "panel-b");
fieldAxes(layoutC, wideXTicks, "panel-c");
fieldAxes(layoutD, narrowXTicks, "panel-d");
fieldAxes(layoutE, narrowXTicks, "panel-e");
fieldAxes(layoutF, narrowXTicks, "panel-f");

colorBar({left:1335.6,right:1386.5,top:71.7,bottom:251.7,labelX:1404,labelY:[75,119.3,163.3,208.3,253.3]}, uzScale, uzBarLabels, "colorbar-a", -3, 3);
colorBar({left:1335.6,right:1386.5,top:396,bottom:576,labelX:1404,labelY:[399.3,444,488,533,578]}, uxScale, uxBarLabels, "colorbar-b", -4, 4);
colorBar({left:1335.6,right:1386.5,top:759,bottom:942.7,labelX:1404,labelY:[766,810,853,898,943]}, thetaScale, thetaBarLabels, "colorbar-c", -0.02, 0.104);
colorBar({left:773.4,right:828.5,top:1091,bottom:1284,labelX:851,labelY:[1095,1142.7,1191,1240,1288]}, uzScale, uzBarLabels, "colorbar-d", -3, 3);
colorBar({left:773.4,right:828.5,top:1421,bottom:1614,labelX:851,labelY:[1425,1472.7,1521,1570,1617]}, uxScale, uxBarLabels, "colorbar-e", -4, 4);
colorBar({left:773.4,right:828.5,top:1751.7,bottom:1952.3,labelX:851,labelY:[1755,1802.7,1850,1898,1946]}, thetaScale, thetaBarLabels, "colorbar-f", -0.02, 0.104);

symbolTitle("u", "z", 1407.8, 28, "colorbar-a-title");
symbolTitle("u", "x", 1407.8, 358, "colorbar-b-title");
symbolTitle("θ", "", 1412, 730, "colorbar-c-title");
symbolTitle("u", "z", 864.5, 1060, "colorbar-d-title");
symbolTitle("u", "x", 864.5, 1390, "colorbar-e-title");
symbolTitle("θ", "", 869, 1728, "colorbar-f-title");

panelLetter("a", 4, 53);
panelLetter("b", 4, 383);
panelLetter("c", 4, 732);
panelLetter("d", 2, 1060);
panelLetter("e", 4, 1392);
panelLetter("f", 2, 1732);
panelLetter("g", 962, 1128);
panelLetter("h", 962, 1607);

italicLabel("x", 420, 2045, "middle", "x-axis-title", ov, 40);

// panel g
const layoutG = {left:1081.9,right:1459.6,top:1128.7,bottom:1457.3,xLabelY:1496,zLabelRight:1066.5};
layoutG.xs = u => 1101.5 + u * 198.6;
layoutG.zs = z => 1293 - z * 568.5;
const panelG = group("panel-g");
boxAxes(layoutG, panelG, gXTicks, gXLabels, 0.1, -0.1, 1.8, gZTicks, "panel-g");
profileLine(panelG, layoutG.xs, layoutG.zs, g2DBaseU, g2DBaseZ, "#c00020", 2, "9 6", "ux-2d-base-line");
profileLine(panelG, layoutG.xs, layoutG.zs, g3DBaseU, g3DBaseZ, "#1a2fe0", 2.8, "7 5", "ux-3d-base-line");
profileLine(panelG, layoutG.xs, layoutG.zs, g3DU, g3DZ, "#1a2fe0", 2.2, "", "ux-3d-line");
profileLine(panelG, layoutG.xs, layoutG.zs, g2DU, g2DZ, "#c00020", 2.6, "", "ux-2d-line");
italicLabel("z", 976, 1300, "start", "panel-g-z-title", panelG, 38);
italicLabel("u", 1256, 1527, "start", "panel-g-x-title", panelG, 42);
italicLabel("x", 1276, 1538, "start", "panel-g-x-title-subscript", panelG, 30);

// panel h
const layoutH = {left:1082.6,right:1463,top:1610.7,bottom:1941,xLabelY:1980.7,zLabelRight:1066.5};
layoutH.xs = t => 1213.9 + t * 1316;
layoutH.zs = z => 1776 - z * 570;
const panelH = group("panel-h");
boxAxes(layoutH, panelH, hXTicks, hXLabels, 0.02, -0.1, 0.18, gZTicks, "panel-h");
profileLine(panelH, layoutH.xs, layoutH.zs, h3DBaseTheta, h3DBaseZ, "#1a2fe0", 2.4, "8 5", "theta-3d-base-line");
profileLine(panelH, layoutH.xs, layoutH.zs, h2DBaseTheta, h2DBaseZ, "#c00020", 2.6, "8 5", "theta-2d-base-line");
profileLine(panelH, layoutH.xs, layoutH.zs, h3DTheta, hSolidZ, "#1a2fe0", 2.6, "", "theta-3d-line");
profileLine(panelH, layoutH.xs, layoutH.zs, h2DTheta, hSolidZ, "#c00020", 2.6, "", "theta-2d-line");
italicLabel("z", 976, 1792, "start", "panel-h-z-title", panelH, 38);
italicLabel("θ", 1271.6, 2012, "middle", "panel-h-x-title", panelH, 38);

const legend = group("legend");
const legendNames = ["3D","2D","3D, base","2D, base"];
const legendColors = ["#1a2fe0","#c00020","#1a2fe0","#c00020"];
const legendDash = ["","","3 2.5","3 2.5"];
const legendLineY = [1646.7,1687.7,1730,1771.7];
const legendTextY = [1657.3,1695,1738.3,1778.3];
legendNames.forEach((s, i) => {
  const ln = mk("line", {x1:1242.4, x2:1318, y1:legendLineY[i], y2:legendLineY[i], stroke:legendColors[i], "stroke-width":i === 1 ? 3.2 : 2.6}, legend);
  if (legendDash[i]) ln.setAttribute("stroke-dasharray", legendDash[i]);
  
  
  label(s, 1330.7, legendTextY[i], "start", "legend-entry-" + i, legend);
});
</script>
</body>
</html>
